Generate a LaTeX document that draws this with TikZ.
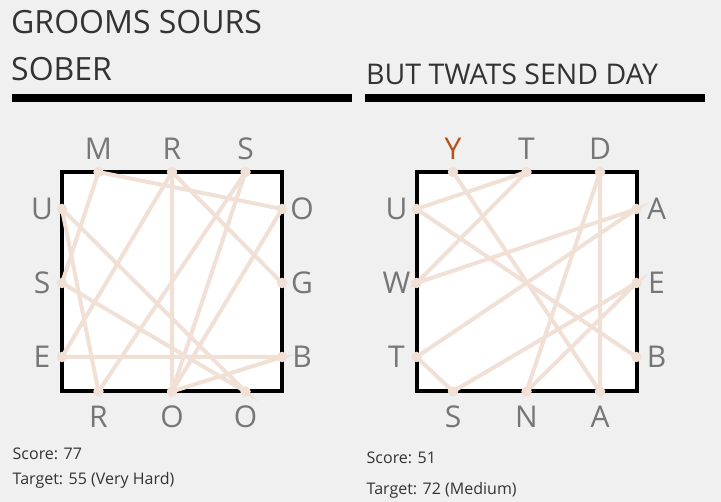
\documentclass[tikz,border=0pt]{standalone}
\usepackage{fontspec}
\setmainfont{Open Sans}
\usetikzlibrary{positioning}

\definecolor{bgc}{HTML}{F0F0F0}
\definecolor{linkc}{HTML}{F1E0D5}
\definecolor{lettc}{HTML}{767676}
\definecolor{hotc}{HTML}{B5521B}
\definecolor{textc}{HTML}{333333}

\tikzset{
  frame/.style={draw=black, line width=4pt, fill=white},
  link/.style={draw=linkc, line width=4pt},
  dot/.style={circle, fill=linkc, inner sep=0pt, minimum size=10.5pt},
  letter/.style={text=lettc, inner sep=0pt, font=\fontsize{30}{30}\selectfont},
  title/.style={text=textc, inner sep=0pt, anchor=base west, font=\fontsize{32}{32}\selectfont},
  info/.style={text=textc, inner sep=0pt, anchor=base west, font=\fontsize{16}{16}\selectfont},
  bar/.style={fill=black}
}

\begin{document}
\begin{tikzpicture}[x=1pt,y=-1pt]

\useasboundingbox[fill=bgc] (0,0) rectangle (721,502);

\node[title] (t1) at (11,33.3) {GROOMS SOURS};
\node[title] (t2) at (11,81) {SOBER};
\fill[bar] (12,94) rectangle (352,101.7);

\node[title, font=\fontsize{28.5}{28.5}\selectfont] (t3) at (366,85) {BUT TWATS SEND DAY};
\fill[bar] (365,94) rectangle (705,101.7);

\draw[frame] (62,172) rectangle (282,391.5);
\draw[frame] (416.5,172) rectangle (636.5,391.5);

\node[dot] (l-t1) at (98.5,172) {};
\node[dot] (l-t2) at (172,172) {};
\node[dot] (l-t3) at (245.5,172) {};
\node[dot] (l-l1) at (62,209) {};
\node[dot] (l-l2) at (62,283) {};
\node[dot] (l-l3) at (62,357) {};
\node[dot] (l-r1) at (282,209) {};
\node[dot] (l-r2) at (282,283) {};
\node[dot] (l-r3) at (282,357) {};
\node[dot] (l-b1) at (98.5,391.5) {};
\node[dot] (l-b2) at (172,391.5) {};
\node[dot] (l-b3) at (245.5,391.5) {};

\node[dot] (r-t1) at (453,172) {};
\node[dot] (r-t2) at (526.5,172) {};
\node[dot] (r-t3) at (600,172) {};
\node[dot] (r-l1) at (416.5,209) {};
\node[dot] (r-l2) at (416.5,283) {};
\node[dot] (r-l3) at (416.5,357) {};
\node[dot] (r-r1) at (636.5,209) {};
\node[dot] (r-r2) at (636.5,283) {};
\node[dot] (r-r3) at (636.5,357) {};
\node[dot] (r-b1) at (453,391.5) {};
\node[dot] (r-b2) at (526.5,391.5) {};
\node[dot] (r-b3) at (600,391.5) {};

\draw[link] (l-r2.center) -- (l-t2.center) -- (l-b2.center) -- (l-r1.center) -- (l-t1.center) -- (l-l2.center);
\draw[link] (l-l2.center) -- (l-b3.center) -- (l-l1.center) -- (l-b1.center) -- (l-t3.center);
\draw[link] (l-t3.center) -- (l-b2.center) -- (l-r3.center) -- (l-l3.center) -- (l-t2.center);

\draw[link] (r-r3.center) -- (r-l1.center) -- (r-t2.center);
\draw[link] (r-t2.center) -- (r-l2.center) -- (r-r1.center) -- (r-l3.center) -- (r-b1.center);
\draw[link] (r-b1.center) -- (r-r2.center) -- (r-b2.center) -- (r-t3.center);
\draw[link] (r-t3.center) -- (r-b3.center) -- (r-t1.center);

\node[letter] (l-t1-txt) at (98.5,149) {M};
\node[letter] (l-t2-txt) at (172,149) {R};
\node[letter] (l-t3-txt) at (245.5,149) {S};
\node[letter] (l-l1-txt) at (42,209) {U};
\node[letter] (l-l2-txt) at (42,283) {S};
\node[letter] (l-l3-txt) at (42,357) {E};
\node[letter] (l-r1-txt) at (302,209) {O};
\node[letter] (l-r2-txt) at (302,283) {G};
\node[letter] (l-r3-txt) at (302,357) {B};
\node[letter] (l-b1-txt) at (98.5,417) {R};
\node[letter] (l-b2-txt) at (172,417) {O};
\node[letter] (l-b3-txt) at (245.5,417) {O};

\node[letter, text=hotc] (r-t1-txt) at (453,149) {Y};
\node[letter] (r-t2-txt) at (526.5,149) {T};
\node[letter] (r-t3-txt) at (600,149) {D};
\node[letter] (r-l1-txt) at (396.5,209) {U};
\node[letter] (r-l2-txt) at (396.5,283) {W};
\node[letter] (r-l3-txt) at (396.5,357) {T};
\node[letter] (r-r1-txt) at (656.5,209) {A};
\node[letter] (r-r2-txt) at (656.5,283) {E};
\node[letter] (r-r3-txt) at (656.5,357) {B};
\node[letter] (r-b1-txt) at (453,417) {S};
\node[letter] (r-b2-txt) at (526.5,417) {N};
\node[letter] (r-b3-txt) at (600,417) {A};

\node[info] (s1) at (12.5,460) {Score: 77};
\node[info] (g1) at (12.5,485) {Target: 55 (Very Hard)};
\node[info] (s2) at (366.5,463.3) {Score: 51};
\node[info] (g2) at (366.5,495) {Target: 72 (Medium)};
\end{tikzpicture}
\end{document}
